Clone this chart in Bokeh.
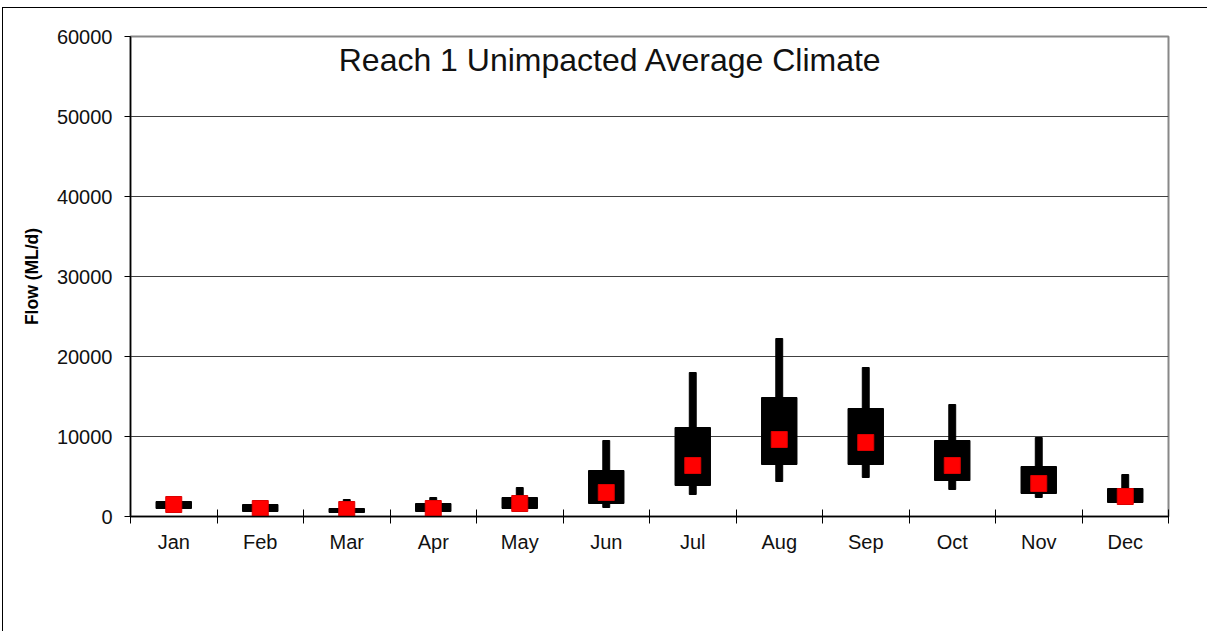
from bokeh.plotting import figure
from bokeh.models import ColumnDataSource, FixedTicker, Label, Range1d
from bokeh.embed import file_html
from bokeh.resources import INLINE

months = ["Jan", "Feb", "Mar", "Apr", "May", "Jun",
          "Jul", "Aug", "Sep", "Oct", "Nov", "Dec"]
p10 = [750, 500, 300, 500, 750, 1125, 2750, 4375, 4875, 3375, 2375, 1500]
p25 = [1000, 625, 500, 625, 1000, 1625, 3875, 6500, 6500, 4500, 2875, 1750]
median = [1500, 1000, 875, 1000, 1625, 3000, 6375, 9625, 9250, 6375, 4125, 2500]
p75 = [1875, 1500, 1000, 1625, 2375, 5750, 11125, 14875, 13500, 9500, 6250, 3500]
p90 = [2500, 1750, 2125, 2375, 3625, 9500, 18000, 22250, 18625, 14000, 9875, 5250]
y_ticks = [0, 10000, 20000, 30000, 40000, 50000, 60000]

xs = [i + 0.5 for i in range(len(months))]
src = ColumnDataSource(dict(x=xs, month=months, p10=p10, p25=p25,
                            med=median, p75=p75, p90=p90))

FONT = "Liberation Sans"

p = figure(width=1205, height=624, output_backend="svg", toolbar_location=None,
           x_range=Range1d(0, len(months)), y_range=Range1d(0, 60000),
           min_border_left=127, min_border_right=40, min_border_top=28,
           min_border_bottom=116,
           styles={"border-left": "1px solid black", "border-top": "1px solid black",
                   "margin-left": "2px", "margin-top": "7px"})

p.background_fill_color = "white"
p.border_fill_color = "white"
p.outline_line_color = "#888888"
p.outline_line_width = 2

# whiskers, boxes, medians
p.vbar(x="x", bottom="p10", top="p90", width=0.08, source=src,
       fill_color="black", line_color="black")
p.vbar(x="x", bottom="p25", top="p75", width=0.41, source=src,
       fill_color="black", line_color="black")
p.scatter(x="x", y="med", source=src, marker="square", size=16,
          fill_color="#ff0000", line_color="#dd0000")

# x axis
xax = p.xaxis[0]
xax.ticker = FixedTicker(ticks=xs, minor_ticks=list(range(len(months) + 1)))
xax.major_label_overrides = {x: m for x, m in zip(xs, months)}
xax.major_tick_line_color = None
xax.minor_tick_line_color = "black"
xax.minor_tick_in = 7
xax.minor_tick_out = 7
xax.minor_tick_line_width = 1
xax.axis_line_color = "black"
xax.axis_line_width = 1.5
xax.major_label_text_font = FONT
xax.major_label_text_font_size = "20px"
xax.major_label_text_color = "#111111"
xax.major_label_standoff = 7

# y axis
yax = p.yaxis[0]
yax.ticker = FixedTicker(ticks=y_ticks)
yax.minor_tick_line_color = None
yax.major_tick_in = 0
yax.major_tick_out = 6
yax.major_tick_line_color = "black"
yax.axis_line_color = "black"
yax.axis_line_width = 1.5
yax.major_label_text_font = FONT
yax.major_label_text_font_size = "20px"
yax.major_label_text_color = "#111111"
yax.major_label_standoff = 12
yax.axis_label = "Flow (ML/d)"
yax.axis_label_text_font = FONT
yax.axis_label_text_font_size = "17.5px"
yax.axis_label_text_font_style = "bold"
yax.axis_label_text_color = "black"
yax.axis_label_standoff = 12

p.xgrid.grid_line_color = None
p.ygrid.ticker = FixedTicker(ticks=y_ticks)
p.ygrid.grid_line_color = "#404040"
p.ygrid.grid_line_width = 1

title = Label(x=5.55, y=57100, text="Reach 1 Unimpacted Average Climate",
              text_font=FONT, text_font_size="32px", text_align="center",
              text_baseline="middle", text_color="#111111")
p.add_layout(title)

open("out.html", "w").write(file_html(p, INLINE))
